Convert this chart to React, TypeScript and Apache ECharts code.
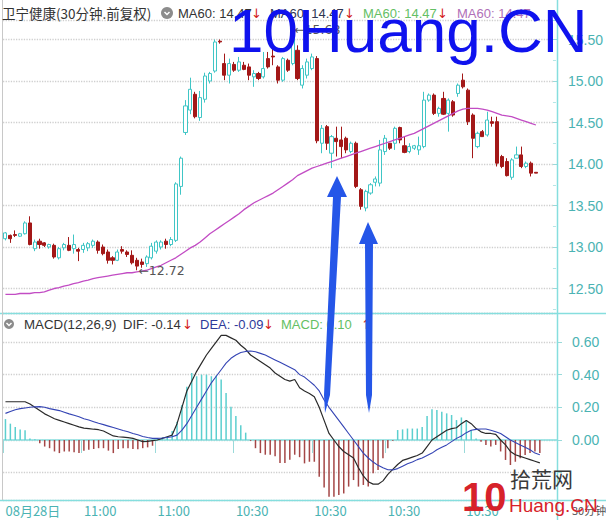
import React, { useEffect, useRef } from 'react';
import * as echarts from 'echarts';

const SLOT_COUNT = 113;
const tickIndex = [0, 16, 31, 47, 63, 78, 94];
const tickLabels = ['08月28日', '11:00', '11:00', '10:30', '10:30', '10:30', '10:30'];

const opens = [
  13.10, 13.14, 13.15, 13.13, 13.16, 13.29, 12.98, 13.07, 13.05, 13.00,
  13.02, 12.87, 12.99, 13.02, 12.98, 12.97, 12.97, 12.99, 13.02, 13.06,
  13.00, 12.94, 12.87, 12.84, 12.97, 12.94, 12.90, 12.84, 12.82, 12.80,
  12.87, 12.95, 13.00, 13.07, 13.03, 13.08, 13.73, 14.38, 14.65, 14.84,
  14.56, 14.78, 15.00, 15.12, 15.48, 15.21, 15.07, 15.20, 15.13, 15.19,
  15.17, 15.05, 15.09, 15.05, 15.27, 15.30, 15.17, 15.01, 15.25, 15.21,
  15.37, 14.95, 15.07, 15.15, 15.27, 14.25, 14.45, 14.13, 14.31, 14.29,
  14.31, 14.15, 14.25, 13.69, 13.47, 13.65, 13.78, 13.77, 14.15, 14.25,
  14.25, 14.44, 14.22, 14.15, 14.19, 14.17, 14.21, 14.77, 14.83, 14.61,
  14.79, 14.61, 14.75, 14.85, 15.01, 14.89, 14.59, 14.21, 14.39, 14.35,
  14.51, 14.51, 14.09, 14.03, 13.84, 14.07, 14.11, 13.97, 14.01, 13.90,
];
const closes = [
  13.17, 13.10, 13.14, 13.16, 13.29, 13.03, 13.06, 13.03, 13.02, 13.03,
  12.88, 12.98, 13.03, 12.96, 13.03, 12.95, 13.02, 13.04, 13.07, 12.96,
  12.92, 12.84, 12.84, 12.94, 12.95, 12.91, 12.81, 12.77, 12.79, 12.88,
  13.01, 13.06, 13.06, 13.03, 13.09, 13.76, 14.07, 14.70, 14.90, 14.57,
  14.80, 15.06, 15.09, 15.47, 15.47, 15.07, 15.21, 15.13, 15.23, 15.14,
  15.07, 15.09, 15.03, 15.15, 15.17, 15.29, 15.01, 15.27, 15.13, 15.63,
  15.03, 15.15, 15.23, 15.29, 14.28, 14.43, 14.25, 14.33, 14.27, 14.21,
  14.17, 14.25, 13.73, 13.49, 13.67, 13.75, 13.82, 14.17, 14.31, 14.19,
  14.43, 14.29, 14.14, 14.21, 14.22, 14.22, 14.77, 14.83, 14.61, 14.67,
  14.60, 14.77, 14.59, 14.95, 14.93, 14.51, 14.31, 14.37, 14.33, 14.53,
  14.49, 14.01, 13.97, 13.86, 14.05, 14.11, 13.97, 14.01, 13.89, 13.89,
];
const lows = [
  13.08, 13.05, 13.12, 13.12, 13.15, 13.02, 12.95, 12.98, 13.00, 12.98,
  12.86, 12.85, 12.96, 12.95, 12.92, 12.83, 12.93, 12.95, 12.99, 12.92,
  12.90, 12.80, 12.79, 12.83, 12.92, 12.88, 12.79, 12.72, 12.75, 12.76,
  12.85, 12.92, 12.97, 12.98, 13.01, 13.06, 13.63, 14.35, 14.60, 14.55,
  14.52, 14.74, 14.97, 15.10, 15.45, 15.01, 14.97, 15.11, 15.11, 15.13,
  15.01, 14.93, 15.01, 15.03, 15.15, 15.19, 14.97, 14.99, 15.11, 15.19,
  15.01, 14.91, 15.03, 15.13, 14.25, 14.13, 14.17, 13.95, 14.09, 14.07,
  14.13, 14.13, 13.71, 13.45, 13.43, 13.63, 13.73, 13.73, 14.11, 14.17,
  14.17, 14.25, 14.13, 14.13, 14.17, 14.11, 14.19, 14.75, 14.59, 14.57,
  14.59, 14.39, 14.57, 14.81, 14.91, 14.47, 14.07, 14.19, 14.33, 14.33,
  14.45, 13.97, 13.95, 13.85, 13.81, 14.07, 13.95, 13.95, 13.85, 13.89,
];
const highs = [
  13.18, 13.15, 13.20, 13.17, 13.31, 13.37, 13.09, 13.10, 13.06, 13.04,
  13.04, 13.00, 13.05, 13.12, 13.15, 12.99, 13.05, 13.06, 13.09, 13.08,
  13.03, 12.97, 12.89, 12.97, 13.01, 12.96, 12.96, 12.87, 12.86, 12.90,
  13.05, 13.08, 13.08, 13.10, 13.12, 13.78, 14.09, 14.77, 15.04, 14.87,
  14.88, 15.10, 15.11, 15.50, 15.50, 15.33, 15.27, 15.23, 15.29, 15.23,
  15.21, 15.13, 15.11, 15.35, 15.35, 15.45, 15.19, 15.29, 15.27, 15.68,
  15.43, 15.19, 15.27, 15.33, 15.30, 14.47, 14.47, 14.35, 14.45, 14.45,
  14.33, 14.27, 14.27, 13.71, 13.69, 13.77, 13.85, 14.29, 14.35, 14.25,
  14.45, 14.45, 14.33, 14.25, 14.23, 14.33, 14.87, 14.85, 14.85, 14.69,
  14.87, 14.79, 14.77, 14.97, 15.09, 14.91, 14.61, 14.39, 14.41, 14.63,
  14.57, 14.57, 14.11, 14.07, 14.07, 14.21, 14.21, 14.03, 14.03, 13.90,
];
const ma60 = [
  12.43, 12.43, 12.43, 12.44, 12.44, 12.44, 12.45, 12.45, 12.46, 12.48,
  12.50, 12.51, 12.53, 12.54, 12.56, 12.57, 12.59, 12.60, 12.62, 12.63,
  12.64, 12.65, 12.66, 12.67, 12.68, 12.69, 12.69, 12.70, 12.71, 12.72,
  12.74, 12.76, 12.78, 12.81, 12.84, 12.87, 12.91, 12.95, 12.99, 13.02,
  13.06, 13.11, 13.16, 13.20, 13.24, 13.28, 13.32, 13.36, 13.40, 13.45,
  13.49, 13.53, 13.56, 13.59, 13.62, 13.65, 13.69, 13.73, 13.77, 13.81,
  13.86, 13.89, 13.92, 13.95, 13.97, 13.99, 14.01, 14.03, 14.05, 14.07,
  14.09, 14.11, 14.13, 14.15, 14.17, 14.19, 14.21, 14.23, 14.25, 14.27,
  14.29, 14.31, 14.33, 14.35, 14.37, 14.40, 14.43, 14.46, 14.49, 14.52,
  14.55, 14.58, 14.61, 14.64, 14.66, 14.67, 14.67, 14.67, 14.66, 14.65,
  14.63, 14.61, 14.59, 14.58, 14.57, 14.55, 14.53, 14.51, 14.49, 14.47,
];
const dif = [
  0.234, 0.234, 0.234, 0.234, 0.234, 0.22, 0.20, 0.18, 0.16, 0.145,
  0.13, 0.12, 0.11, 0.10, 0.09, 0.08, 0.073, 0.07, 0.066, 0.063,
  0.055, 0.04, 0.025, 0.02, 0.018, 0.015, 0.01, 0.0, -0.01, -0.008,
  -0.004, 0.0, 0.01, 0.02, 0.03, 0.10, 0.20, 0.30, 0.36, 0.42,
  0.47, 0.52, 0.56, 0.60, 0.64, 0.64, 0.625, 0.61, 0.58, 0.555,
  0.52, 0.50, 0.48, 0.46, 0.44, 0.41, 0.39, 0.37, 0.36, 0.37,
  0.32, 0.30, 0.285, 0.265, 0.20, 0.12, 0.04, 0.0, -0.04, -0.07,
  -0.09, -0.11, -0.17, -0.22, -0.255, -0.27, -0.27, -0.25, -0.21, -0.18,
  -0.15, -0.125, -0.115, -0.105, -0.095, -0.08, -0.04, 0.0, 0.02, 0.04,
  0.06, 0.07, 0.075, 0.10, 0.12, 0.10, 0.07, 0.05, 0.04, 0.04,
  0.035, 0.0, -0.03, -0.07, -0.09, -0.10, -0.11, -0.12, -0.13, -0.14,
];
const dea = [
  0.163, 0.175, 0.185, 0.192, 0.196, 0.200, 0.203, 0.204, 0.200, 0.192,
  0.186, 0.180, 0.170, 0.160, 0.152, 0.142, 0.130, 0.122, 0.112, 0.102,
  0.094, 0.085, 0.076, 0.067, 0.058, 0.050, 0.040, 0.032, 0.022, 0.015,
  0.010, 0.010, 0.012, 0.015, 0.020, 0.030, 0.060, 0.10, 0.15, 0.20,
  0.25, 0.30, 0.35, 0.39, 0.43, 0.47, 0.50, 0.52, 0.535, 0.542,
  0.545, 0.54, 0.53, 0.52, 0.505, 0.49, 0.475, 0.46, 0.445, 0.43,
  0.40, 0.385, 0.36, 0.335, 0.30, 0.245, 0.20, 0.16, 0.12, 0.08,
  0.04, 0.00, -0.04, -0.08, -0.11, -0.135, -0.155, -0.17, -0.182, -0.183,
  -0.175, -0.16, -0.145, -0.135, -0.12, -0.11, -0.095, -0.08, -0.06, -0.045,
  -0.03, -0.01, 0.01, 0.025, 0.045, 0.06, 0.065, 0.067, 0.067, 0.06,
  0.05, 0.04, 0.02, 0.0, -0.015, -0.03, -0.045, -0.06, -0.08, -0.09,
];
const macdBars = [
  0.128, 0.10, 0.08, 0.065, 0.06, 0.01, 0.005, -0.02, -0.04, -0.05,
  -0.07, -0.08, -0.07, -0.071, -0.075, -0.08, -0.065, -0.06, -0.055, -0.05,
  -0.05, -0.065, -0.08, -0.055, -0.05, -0.05, -0.055, -0.057, -0.05, -0.045,
  -0.035, 0.01, 0.015, 0.02, 0.055, 0.112, 0.214, 0.326, 0.41, 0.39,
  0.40, 0.40, 0.39, 0.395, 0.37, 0.287, 0.204, 0.147, 0.09, 0.045,
  -0.005, -0.05, -0.08, -0.09, -0.09, -0.10, -0.14, -0.14, -0.12, -0.09,
  -0.105, -0.143, -0.133, -0.133, -0.224, -0.29, -0.347, -0.347, -0.337, -0.327,
  -0.285, -0.245, -0.285, -0.275, -0.285, -0.204, -0.183, -0.112, -0.051, -0.005,
  0.061, 0.065, 0.07, 0.07, 0.07, 0.08, 0.147, 0.188, 0.184, 0.173,
  0.163, 0.153, 0.122, 0.138, 0.122, 0.061, 0.01, -0.01, -0.03, -0.04,
  -0.03, -0.07, -0.122, -0.153, -0.133, -0.112, -0.092, -0.08, -0.07, -0.08,
];

const CYAN = '#40c6c6';
const DARKRED = '#a31818';
const AXIS_TEXT = '#4bb3b3';
const FRAME = '#86dede';
const FONT = '"Liberation Sans", "DejaVu Sans", Arial, sans-serif';
const CJK = '"Noto Sans CJK SC", "Liberation Sans", sans-serif';
const ARROWFONT = '"DejaVu Sans", sans-serif';

function txt(x: number, y: number, text: string, fill: string, size = 13, family = FONT, z = 50, extra: any = {}) {
  return {
    type: 'text', x, y, z,
    style: { text, fill, fontSize: size, fontFamily: family, verticalAlign: 'middle', align: 'left', ...extra },
  };
}

function icon(cx: number, cy: number, r: number) {
  return [
    { type: 'circle', z: 50, shape: { cx, cy, r }, style: { fill: '#8c8c8c' } },
    {
      type: 'polyline', z: 51,
      shape: { points: [[cx - 2.5, cy - 1], [cx, cy + 1.6], [cx + 2.5, cy - 1]] },
      style: { stroke: '#fff', lineWidth: 1.4, fill: null },
    },
  ];
}

export default function App() {
  const ref = useRef<HTMLDivElement>(null);
  useEffect(() => {
    const chart = echarts.init(ref.current!, null, { renderer: 'svg' });
    const categories = Array.from({ length: SLOT_COUNT }, (_, i) => {
      const k = tickIndex.indexOf(i);
      return k >= 0 ? tickLabels[k] : '';
    });
    const candleData = opens.map((o, i) => [o, closes[i], lows[i], highs[i]]);
    const barData = macdBars.map((v) => ({
      value: v,
      itemStyle: { color: v >= 0 ? '#5ccfcf' : '#a44646' },
    }));
    const showIdx = (_: number, v: string) => v !== '';

    const arrow1 = [[337, 176], [347, 197], [341, 197], [330, 395], [325, 413], [324, 395], [333, 197], [327, 197]];
    const arrow2 = [[368, 222], [378, 244], [373, 244], [372, 395], [369, 413], [366, 395], [365, 244], [359, 244]];

    const graphic: any[] = [
      { type: 'line', z: 40, shape: { x1: 0, y1: 313.5, x2: 606, y2: 313.5 }, style: { stroke: FRAME, lineWidth: 1.5 } },
      { type: 'line', z: 40, shape: { x1: 0, y1: 500.5, x2: 606, y2: 500.5 }, style: { stroke: FRAME, lineWidth: 1.5 } },
      { type: 'line', z: 40, shape: { x1: 557.5, y1: 0, x2: 557.5, y2: 520 }, style: { stroke: FRAME, lineWidth: 1.5 } },
      { type: 'line', z: 40, shape: { x1: 2.5, y1: 0, x2: 2.5, y2: 500 }, style: { stroke: '#c8c8c8', lineWidth: 1 } },
      txt(2, 13, '卫宁健康(30分钟.前复权)', '#333', 13.5, CJK),
      ...icon(167, 13, 6),
      txt(178, 13, 'MA60: 14.47', '#333333'),
      txt(251, 13, '↓', '#d42020', 13, ARROWFONT),
      txt(270, 13, 'MA60: 14.47', '#2e3552'),
      txt(344, 13, '↓', '#d42020', 13, ARROWFONT),
      txt(363, 13, 'MA60: 14.47', '#64c064'),
      txt(437, 13, '↓', '#d42020', 13, ARROWFONT),
      txt(457, 13, 'MA60: 14.47', '#b070b8'),
      ...icon(9, 324, 5),
      txt(24, 324, 'MACD(12,26,9)', '#333333', 13.3),
      txt(123, 324, 'DIF: -0.14', '#333333'),
      txt(182, 324, '↓', '#d42020', 13, ARROWFONT),
      txt(200, 324, 'DEA: -0.09', '#2e3a9a'),
      txt(263, 324, '↓', '#d42020', 13, ARROWFONT),
      txt(281, 324, 'MACD: 0.10', '#64c064'),
      txt(361, 324, '↑', '#d42020', 13, ARROWFONT),
      txt(572, 510, '30分钟', '#555', 11, CJK),
      { type: 'polygon', z: 100, shape: { points: arrow1 }, style: { fill: '#2556e8' } },
      { type: 'polygon', z: 100, shape: { points: arrow2 }, style: { fill: '#2556e8' } },
      {
        type: 'text', x: 229, y: 30, z: 110,
        style: {
          text: '10Huang.CN', fill: '#0f12ee', fontSize: 62, lineHeight: 50, fontFamily: FONT,
          verticalAlign: 'middle', align: 'left',
        },
      },
      {
        type: 'text', x: 462, y: 497, z: 110,
        style: {
          text: '10', fill: '#d7222a', fontSize: 40, lineHeight: 40, fontWeight: 'bold', fontFamily: FONT,
          verticalAlign: 'middle', align: 'left',
        },
      },
      txt(510, 478, '拾荒网', '#3a3a3a', 21, CJK, 110),
      txt(509, 505, 'Huang.CN', '#d7222a', 19, FONT, 110),
    ];

    const option: any = {
      animation: false,
      backgroundColor: '#ffffff',
      grid: [
        { left: 3, right: 49, top: 20, height: 293 },
        { left: 3, right: 49, top: 313, height: 187 },
      ],
      xAxis: [
        {
          type: 'category', gridIndex: 0, data: categories, boundaryGap: true,
          axisLine: { show: false }, axisTick: { show: false }, axisLabel: { show: false }, splitLine: { show: false },
        },
        {
          type: 'category', gridIndex: 1, data: categories, boundaryGap: true,
          axisLine: { show: true, lineStyle: { color: FRAME, width: 1.5 } },
          axisTick: { show: true, interval: showIdx, length: 13, inside: false, lineStyle: { color: '#9adada' } },
          axisLabel: {
            show: true, interval: showIdx, align: 'left', margin: 4, color: AXIS_TEXT,
            fontSize: 13, fontFamily: CJK,
          },
          splitLine: { show: false },
        },
      ],
      yAxis: [
        {
          type: 'value', gridIndex: 0, position: 'right', min: 12.205, max: 15.735,
          splitNumber: 7, minInterval: 0.5, maxInterval: 0.5, scale: true,
          axisLine: { show: false },
          axisTick: { show: true, length: 5, lineStyle: { color: '#9adada' } },
          minorTick: { show: true, splitNumber: 2, length: 3, lineStyle: { color: '#b5e6e6' } },
          axisLabel: {
            margin: 15, color: AXIS_TEXT, fontSize: 14, fontFamily: FONT, showMinLabel: false, showMaxLabel: false,
            formatter: (v: number) => (Math.abs(v * 2 - Math.round(v * 2)) < 1e-6 ? v.toFixed(2) : ''),
          },
          splitLine: { show: true, lineStyle: { color: '#cfcfcf', type: 'dotted', width: 1.3 } },
        },
        {
          type: 'value', gridIndex: 1, position: 'right', min: -0.367, max: 0.777,
          splitNumber: 5, minInterval: 0.2, maxInterval: 0.2,
          axisLine: { show: false },
          axisTick: { show: true, length: 5, lineStyle: { color: '#9adada' } },
          axisLabel: {
            margin: 15, color: AXIS_TEXT, fontSize: 14, fontFamily: FONT, showMinLabel: false, showMaxLabel: false,
            formatter: (v: number) =>
              v > -1e-6 && v < 0.61 && Math.abs(v * 5 - Math.round(v * 5)) < 1e-6 ? Math.abs(v).toFixed(2) : '',
          },
          splitLine: { show: true, lineStyle: { color: '#cfcfcf', type: 'dotted', width: 1.3 } },
        },
      ],
      series: [
        {
          type: 'candlestick', xAxisIndex: 0, yAxisIndex: 0, data: candleData, barWidth: 3.6,
          itemStyle: { color: '#ffffff', color0: DARKRED, borderColor: CYAN, borderColor0: DARKRED, borderWidth: 1 },
          markPoint: {
            symbol: 'circle', symbolSize: 1, itemStyle: { color: 'rgba(0,0,0,0)' },
            label: {
              show: true, position: 'right', distance: 1, color: '#555', fontSize: 12.5,
              fontFamily: ARROWFONT,
              formatter: (p: any) => '←' + Number(p.value).toFixed(2),
            },
            data: [
              { type: 'max', valueDim: 'highest', label: { offset: [0, 5] } },
              { type: 'min', valueDim: 'lowest' },
            ],
          },
        },
        {
          type: 'line', xAxisIndex: 0, yAxisIndex: 0, data: ma60, showSymbol: false,
          lineStyle: { color: '#c24cc4', width: 1.3 },
        },
        {
          type: 'bar', xAxisIndex: 1, yAxisIndex: 1, data: barData, barWidth: 1.5,
        },
        {
          type: 'line', xAxisIndex: 1, yAxisIndex: 1, data: dif, showSymbol: false,
          lineStyle: { color: '#2a2a2a', width: 1.2 },
        },
        {
          type: 'line', xAxisIndex: 1, yAxisIndex: 1, data: dea, showSymbol: false,
          lineStyle: { color: '#3444b4', width: 1.1 },
        },
      ],
      graphic,
    };
    chart.setOption(option);
    return () => chart.dispose();
  }, []);
  return <div ref={ref} style={{ position: 'absolute', left: 0, top: 0, width: 606, height: 520, background: '#fff' }} />;
}
